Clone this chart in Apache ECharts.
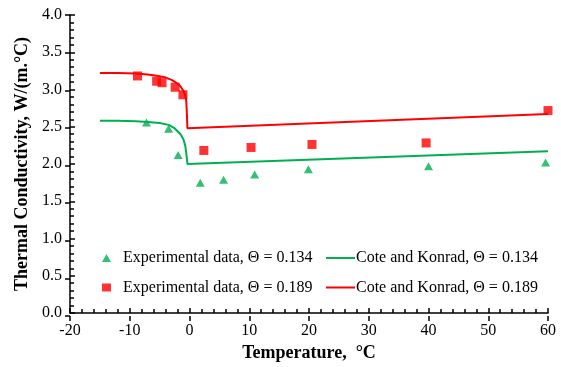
<!DOCTYPE html>
<html>
<head>
<meta charset="utf-8">
<script src="https://cdn.jsdelivr.net/npm/echarts@6/dist/echarts.min.js"></script>
<style>
  html, body { margin: 0; padding: 0; background: #fff; }
  #chart { width: 561px; height: 367px; }
</style>
</head>
<body>
<div id="chart"></div>
<script>
// Measured thermal conductivity, Θ = 0.134
const expTempA = [-7.2, -3.5, -1.9, 1.8, 5.7, 10.9, 19.9, 40.0, 59.6];
const expCondA = [2.57, 2.49, 2.14, 1.77, 1.81, 1.88, 1.95, 1.99, 2.04];
// Measured thermal conductivity, Θ = 0.189
const expTempB = [-8.7, -5.5, -4.6, -2.4, -1.1, 2.4, 10.3, 20.5, 39.6, 60.0];
const expCondB = [3.19, 3.12, 3.10, 3.04, 2.94, 2.20, 2.24, 2.28, 2.30, 2.73];
// Cote and Konrad model curves
const coteTempA = [-15, -12, -9, -7, -5, -3.5, -2.5, -2, -1.5, -1, -0.7, -0.5, -0.35, -0.2, 60];
const coteCondA = [2.58, 2.58, 2.575, 2.565, 2.55, 2.525, 2.48, 2.44, 2.40, 2.33, 2.24, 2.12, 2.0, 1.99, 2.17];
const coteTempB = [-15, -12, -9, -7, -5.5, -4, -3, -2, -1.5, -1, -0.7, -0.55, -0.45, -0.35, 60];
const coteCondB = [3.22, 3.22, 3.215, 3.20, 3.185, 3.16, 3.13, 3.08, 3.04, 2.98, 2.92, 2.85, 2.70, 2.48, 2.67];

const seriesNames = [
  'Experimental data, Θ = 0.134',
  'Experimental data, Θ = 0.189',
  'Cote and Konrad, Θ = 0.134',
  'Cote and Konrad, Θ = 0.189'
];

const GREEN = '#00B050';
const RED = '#FF0000';
const FONT = 'Liberation Serif';

const pairs = (xs, ys) => xs.map((x, i) => [x, ys[i]]);

const chart = echarts.init(document.getElementById('chart'), null, { renderer: 'canvas' });

const gridBox = { left: 70, right: 13, top: 15, bottom: 51, containLabel: false };
const baseX = { type: 'value', min: -20, max: 60, interval: 10, position: 'bottom' };
const baseY = { type: 'value', min: 0, max: 4, interval: 0.5, position: 'left' };
const tickLine = { color: '#000', width: 1.5 };

chart.setOption({
  animation: false,
  backgroundColor: '#fff',
  textStyle: { fontFamily: FONT },
  // two identical overlaid grids: the first carries the axis lines, labels and
  // inward major/minor ticks, the second adds the outward half of major ticks
  grid: [Object.assign({}, gridBox), Object.assign({}, gridBox)],
  xAxis: [
    Object.assign({}, baseX, {
      gridIndex: 0,
      name: 'Temperature,  °C',
      nameLocation: 'middle',
      nameGap: 31,
      nameTextStyle: { fontFamily: FONT, fontSize: 18, fontWeight: 'bold', color: '#000' },
      axisLine: { show: true, onZero: false, lineStyle: tickLine },
      axisTick: { show: true, inside: true, length: 5, lineStyle: tickLine },
      minorTick: { show: true, splitNumber: 5, length: 4, lineStyle: tickLine },
      axisLabel: { fontFamily: FONT, fontSize: 16, color: '#000', margin: 10 },
      splitLine: { show: false }
    }),
    Object.assign({}, baseX, {
      gridIndex: 1, z: 10,
      axisLine: { show: false, onZero: false },
      axisTick: { show: true, inside: false, length: 5, lineStyle: tickLine },
      axisLabel: { show: false },
      splitLine: { show: false }
    })
  ],
  yAxis: [
    Object.assign({}, baseY, {
      gridIndex: 0,
      name: 'Thermal Conductivity, W/(m.°C)',
      nameLocation: 'middle',
      nameGap: 34,
      nameTextStyle: { fontFamily: FONT, fontSize: 18, fontWeight: 'bold', color: '#000' },
      axisLine: { show: true, onZero: false, lineStyle: tickLine },
      axisTick: { show: true, inside: true, length: 5, lineStyle: tickLine },
      minorTick: { show: true, splitNumber: 5, length: 4, lineStyle: tickLine },
      axisLabel: { fontFamily: FONT, fontSize: 16, color: '#000', margin: 8,
                   formatter: v => v.toFixed(1) },
      splitLine: { show: false }
    }),
    Object.assign({}, baseY, {
      gridIndex: 1, z: 10,
      axisLine: { show: false, onZero: false },
      axisTick: { show: true, inside: false, length: 5, lineStyle: tickLine },
      axisLabel: { show: false },
      splitLine: { show: false }
    })
  ],
  legend: [
    {
      orient: 'vertical', left: 102, top: 250, padding: 0, itemGap: 13.5,
      itemWidth: 9, itemHeight: 8,
      textStyle: { fontFamily: FONT, fontSize: 16, color: '#000', lineHeight: 16,
                   padding: [0, 0, 0, 7] },
      data: [seriesNames[0], seriesNames[1]]
    },
    {
      orient: 'vertical', left: 326, top: 250, padding: 0, itemGap: 13.5,
      itemWidth: 29, itemHeight: 2,
      textStyle: { fontFamily: FONT, fontSize: 16, color: '#000', lineHeight: 16,
                   padding: [0, 0, 0, -4] },
      data: [
        { name: seriesNames[2], icon: 'rect' },
        { name: seriesNames[3], icon: 'rect' }
      ]
    }
  ],
  series: [
    {
      name: seriesNames[2], type: 'line', data: pairs(coteTempA, coteCondA),
      xAxisIndex: 0, yAxisIndex: 0,
      symbol: 'none', smooth: false, color: GREEN,
      lineStyle: { color: GREEN, width: 2 }
    },
    {
      name: seriesNames[3], type: 'line', data: pairs(coteTempB, coteCondB),
      xAxisIndex: 0, yAxisIndex: 0,
      symbol: 'none', smooth: false, color: RED,
      lineStyle: { color: RED, width: 2 }
    },
    {
      name: seriesNames[0], type: 'scatter', data: pairs(expTempA, expCondA),
      xAxisIndex: 1, yAxisIndex: 1,
      symbol: 'triangle', symbolSize: [9, 8], clip: false, color: GREEN,
      itemStyle: { color: GREEN }
    },
    {
      name: seriesNames[1], type: 'scatter', data: pairs(expTempB, expCondB),
      xAxisIndex: 1, yAxisIndex: 1,
      symbol: 'rect', symbolSize: 9, clip: false, color: RED,
      itemStyle: { color: RED }
    }
  ]
});
</script>
</body>
</html>
